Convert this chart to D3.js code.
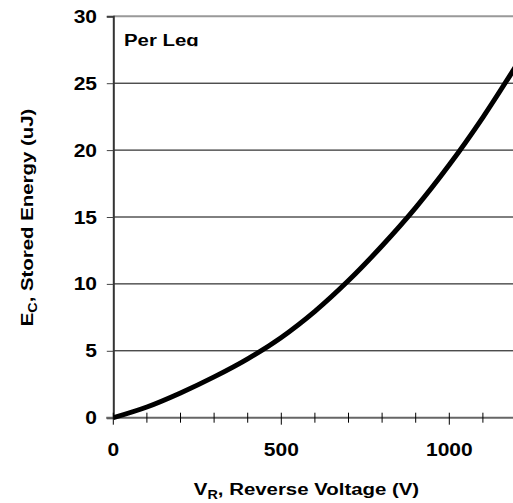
<!DOCTYPE html>
<html>
<head>
<meta charset="utf-8">
<script src="https://cdn.jsdelivr.net/npm/d3@7/dist/d3.min.js"></script>
<style>
  body { margin: 0; background: #fff; }
  text { font-family: "Liberation Sans", Arial, sans-serif; font-weight: bold; fill: #000; }
</style>
</head>
<body>
<svg id="chart" width="513" height="503"></svg>
<script>
// values
var voltage = [0, 100, 200, 300, 400, 500, 600, 700, 800, 900, 1000, 1100, 1200];
var energy  = [0, 0.8, 1.85, 3.05, 4.4, 6.0, 7.95, 10.25, 12.85, 15.7, 18.9, 22.45, 26.35];
var yTicks = [0, 5, 10, 15, 20, 25, 30];
var xLabels = [0, 500, 1000];

var svg = d3.select('#chart');
var plotL = 113.3, plotR = 516.5, plotT = 16.3, plotB = 417.7;
var stretch = 1.2; // text in the original is a bit wider than Arial

var x = d3.scaleLinear().domain([0, 1200]).range([plotL, plotR]);
var y = d3.scaleLinear().domain([0, 30]).range([plotB, plotT]);

function place(sel, px, py, rot) {
    return sel.attr('transform', 'translate(' + px + ',' + py + ')' +
        (rot ? ' rotate(' + rot + ')' : '') + ' scale(' + stretch + ',1)');
}

svg.append('clipPath').attr('id', 'plot')
    .append('rect').attr('x', plotL).attr('y', plotT - 3).attr('width', 513 - plotL).attr('height', plotB - plotT + 6);

// gridlines
svg.append('g').selectAll('line')
    .data(yTicks.filter(function(d) { return d > 0 && d < 30; }))
    .enter().append('line')
    .attr('x1', plotL).attr('x2', 513)
    .attr('y1', function(d) { return y(d); }).attr('y2', function(d) { return y(d); })
    .attr('stroke', '#000').attr('stroke-width', 1);

// top border
svg.append('line')
    .attr('x1', plotL).attr('x2', 513).attr('y1', y(30)).attr('y2', y(30))
    .attr('stroke', '#999').attr('stroke-width', 2);

// y axis
var yAxis = svg.append('g').attr('transform', 'translate(' + plotL + ',0)')
    .call(d3.axisLeft(y).tickValues(yTicks).tickSize(6.5).tickFormat(''));
yAxis.select('.domain').attr('stroke', '#333').attr('stroke-width', 2);
yAxis.selectAll('.tick line').attr('stroke', '#444');
svg.append('g').selectAll('text')
    .data(yTicks)
    .enter().append('text')
    .each(function(d) { place(d3.select(this), 97, y(d) + 6.5); })
    .attr('text-anchor', 'end')
    .attr('font-size', 17.5)
    .text(function(d) { return d; });

// x axis: ticks every 100 crossing the line, labels every 500
var xAxis = svg.append('g').attr('transform', 'translate(0,' + plotB + ')');
xAxis.append('line').attr('x1', plotL - 7).attr('x2', 513).attr('y1', 0).attr('y2', 0)
    .attr('stroke', '#666').attr('stroke-width', 2);
xAxis.selectAll('line.tk')
    .data(d3.range(0, 1201, 100))
    .enter().append('line').attr('class', 'tk')
    .attr('x1', function(d) { return x(d); }).attr('x2', function(d) { return x(d); })
    .attr('y1', -5)
    .attr('y2', function(d) { return d % 500 === 0 ? 7 : 5; })
    .attr('stroke', '#000').attr('stroke-width', 1);
svg.append('g').selectAll('text')
    .data(xLabels)
    .enter().append('text')
    .each(function(d) { place(d3.select(this), x(d), 456); })
    .attr('text-anchor', 'middle')
    .attr('font-size', 17.5)
    .text(function(d) { return d; });

// curve
var line = d3.line()
    .x(function(d, i) { return x(voltage[i]); })
    .y(function(d) { return y(d); })
    .curve(d3.curveCatmullRom);
svg.append('path')
    .datum(energy)
    .attr('clip-path', 'url(#plot)')
    .attr('d', line)
    .attr('fill', 'none')
    .attr('stroke', '#000')
    .attr('stroke-width', 5);

// inner label, cut off at its bottom like the original
svg.append('clipPath').attr('id', 'lab')
    .append('rect').attr('x', plotL).attr('y', plotT).attr('width', 200).attr('height', 30);
place(svg.append('g').attr('clip-path', 'url(#lab)').append('text'), 124, 45.5)
    .attr('font-size', 17)
    .text('Per Leg');

// axis titles
var xt = place(svg.append('text'), 306.5, 495)
    .attr('text-anchor', 'middle')
    .attr('font-size', 17);
xt.append('tspan').text('V');
xt.append('tspan').attr('font-size', 12).attr('dy', 4).text('R');
xt.append('tspan').attr('dy', -4).text(', Reverse Voltage (V)');

var yt = place(svg.append('text'), 33, 217.5, -90)
    .attr('text-anchor', 'middle')
    .attr('font-size', 17);
yt.append('tspan').text('E');
yt.append('tspan').attr('font-size', 12).attr('dy', 4).text('C');
yt.append('tspan').attr('dy', -4).text(', Stored Energy (uJ)');
</script>
</body>
</html>
